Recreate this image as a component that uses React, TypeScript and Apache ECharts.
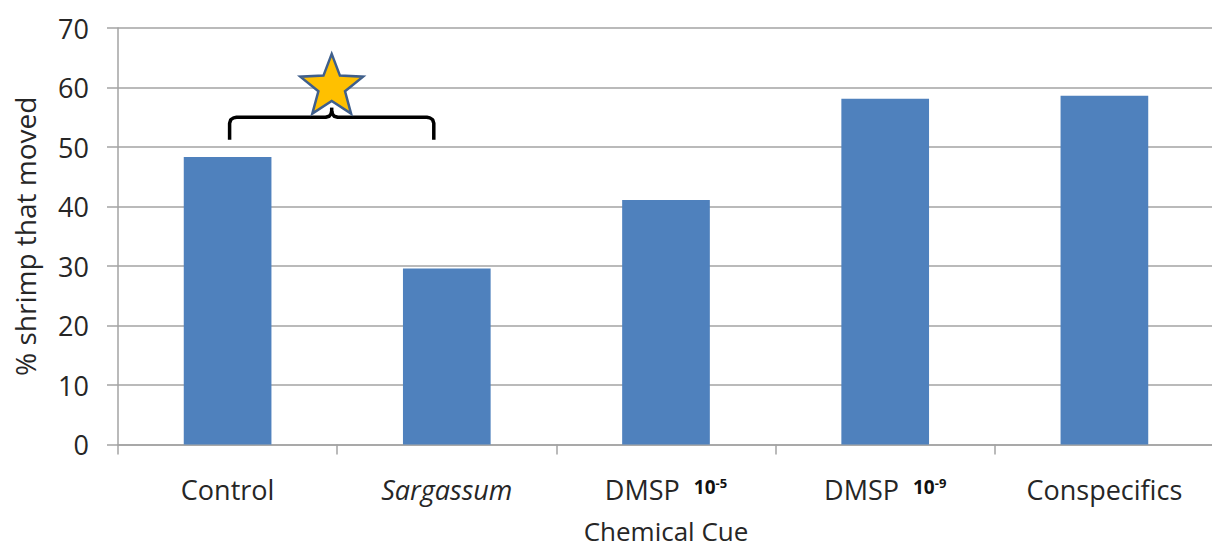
import React, { useEffect, useRef } from "react";
import * as echarts from "echarts";

const categories = ["Control", "Sargassum", "DMSP 10-5", "DMSP 10-9", "Conspecifics"];
const tickLabels = [
  "{n|Control}",
  "{i|Sargassum}",
  "{n|DMSP}  {b|10}{s|-5}",
  "{n|DMSP}  {b|10}{s|-9}",
  "{n|Conspecifics}",
];
const values = [48.3, 29.6, 41.1, 58.1, 58.6];
const yTicks = { min: 0, max: 70, interval: 10 };
const xTitle = "Chemical Cue";
const yTitle = "% shrimp that moved";

// significance annotation between Control and Sargassum (data coordinates)
const bracketBottom = 51.2;
const bracketTop = 55.0;
const starCenterValue = 60.1;

const FONT = "'Open Sans', sans-serif";
const TEXT = "#262626";
const GRID = "#a3a3a3";

export default function App() {
  const ref = useRef<HTMLDivElement>(null);
  useEffect(() => {
    if (!ref.current) return;
    const chart = echarts.init(ref.current, null, { renderer: "svg" });
    chart.setOption({
      animation: false,
      backgroundColor: "#ffffff",
      textStyle: { fontFamily: FONT },
      grid: {
        left: 118,
        right: -2,
        top: 28,
        bottom: 105.5,
        containLabel: false,
        outerBoundsMode: "none",
      },
      xAxis: {
        type: "category",
        data: categories,
        boundaryGap: true,
        axisLine: { show: true, lineStyle: { color: GRID, width: 1.5 } },
        axisTick: { show: true, length: 10, inside: false, lineStyle: { color: GRID, width: 1.5 } },
        axisLabel: {
          margin: 28,
          color: TEXT,
          fontFamily: FONT,
          fontSize: 27,
          interval: 0,
          formatter: (_v: string, idx: number) => tickLabels[idx],
          rich: {
            n: { fontFamily: FONT, fontSize: 27, color: TEXT, lineHeight: 34 },
            i: { fontFamily: FONT, fontSize: 27, fontStyle: "italic", color: TEXT, lineHeight: 34 },
            b: { fontFamily: FONT, fontSize: 19, fontWeight: "bold", color: "#111", lineHeight: 24, padding: [0, 0, 5, 0] },
            s: { fontFamily: FONT, fontSize: 13, fontWeight: "bold", color: "#111", lineHeight: 16, verticalAlign: "top", padding: [4, 0, 0, 0] },
          },
        },
        name: xTitle,
        nameLocation: "middle",
        nameGap: 72,
        nameTextStyle: { fontFamily: FONT, fontSize: 26, lineHeight: 28, color: TEXT },
      },
      yAxis: {
        type: "value",
        min: yTicks.min,
        max: yTicks.max,
        interval: yTicks.interval,
        axisLine: { show: true, lineStyle: { color: GRID, width: 1.5 } },
        axisTick: { show: true, length: 11, inside: false, lineStyle: { color: GRID, width: 1.5 } },
        splitLine: { show: true, lineStyle: { color: GRID, width: 1.5 } },
        axisLabel: { margin: 29, color: TEXT, fontFamily: FONT, fontSize: 27 },
        name: yTitle,
        nameLocation: "middle",
        nameRotate: 90,
        nameGap: 79,
        nameTextStyle: { fontFamily: FONT, fontSize: 28, color: TEXT },
      },
      series: [
        {
          type: "bar",
          data: values,
          barWidth: "40%",
          itemStyle: { color: "#4F81BD" },
        },
      ],
    });

    // annotation: bracket + star, positioned via the chart's own scales
    const px = (cat: number, v: number) =>
      chart.convertToPixel({ gridIndex: 0 }, [cat, v]) as number[];
    const leftCenter = px(0, 0)[0];
    const rightCenter = px(1, 0)[0];
    const xl = leftCenter + 2;
    const xr = rightCenter - 13;
    const xc = (xl + xr) / 2;
    const yb = px(0, bracketBottom)[1];
    const yh = px(0, bracketTop)[1];
    const sc = px(0, starCenterValue)[1];
    const R = 33;
    const r = 14;
    const starPts: number[][] = [];
    for (let k = 0; k < 10; k++) {
      const ang = -Math.PI / 2 + (k * Math.PI) / 5;
      const rad = k % 2 === 0 ? R : r;
      starPts.push([xc + rad * Math.cos(ang), sc + rad * Math.sin(ang)]);
    }
    const stemTop = sc + R * 0.809 - 6;
    const lineStyle = { stroke: "#000000", lineWidth: 3.5, fill: null, lineJoin: "round", lineCap: "butt" };
    chart.setOption({
      graphic: [
        {
          type: "polyline",
          z: 100,
          shape: {
            points: [
              [xl, yb],
              [xl, yh + 6],
              [xl + 1.2, yh + 2.4],
              [xl + 4, yh + 0.6],
              [xl + 7, yh],
              [xc - 6, yh],
              [xc - 2.5, yh - 1],
              [xc - 0.6, yh - 3.5],
              [xc, yh - 6],
            ],
          },
          style: lineStyle,
        },
        {
          type: "polyline",
          z: 100,
          shape: {
            points: [
              [xr, yb],
              [xr, yh + 6],
              [xr - 1.2, yh + 2.4],
              [xr - 4, yh + 0.6],
              [xr - 7, yh],
              [xc + 6, yh],
              [xc + 2.5, yh - 1],
              [xc + 0.6, yh - 3.5],
              [xc, yh - 6],
            ],
          },
          style: lineStyle,
        },
        {
          type: "line",
          z: 100,
          shape: { x1: xc, y1: yh - 4, x2: xc, y2: stemTop },
          style: { stroke: "#000000", lineWidth: 3.5 },
        },
        {
          type: "polygon",
          z: 101,
          shape: { points: starPts },
          style: { fill: "#FFC000", stroke: "#3F5F8C", lineWidth: 2.5, lineJoin: "miter" },
        },
      ],
    });

    return () => chart.dispose();
  }, []);

  return (
    <div
      ref={ref}
      style={{ position: "fixed", left: 0, top: 0, width: 1212, height: 550, background: "#fff" }}
    />
  );
}
